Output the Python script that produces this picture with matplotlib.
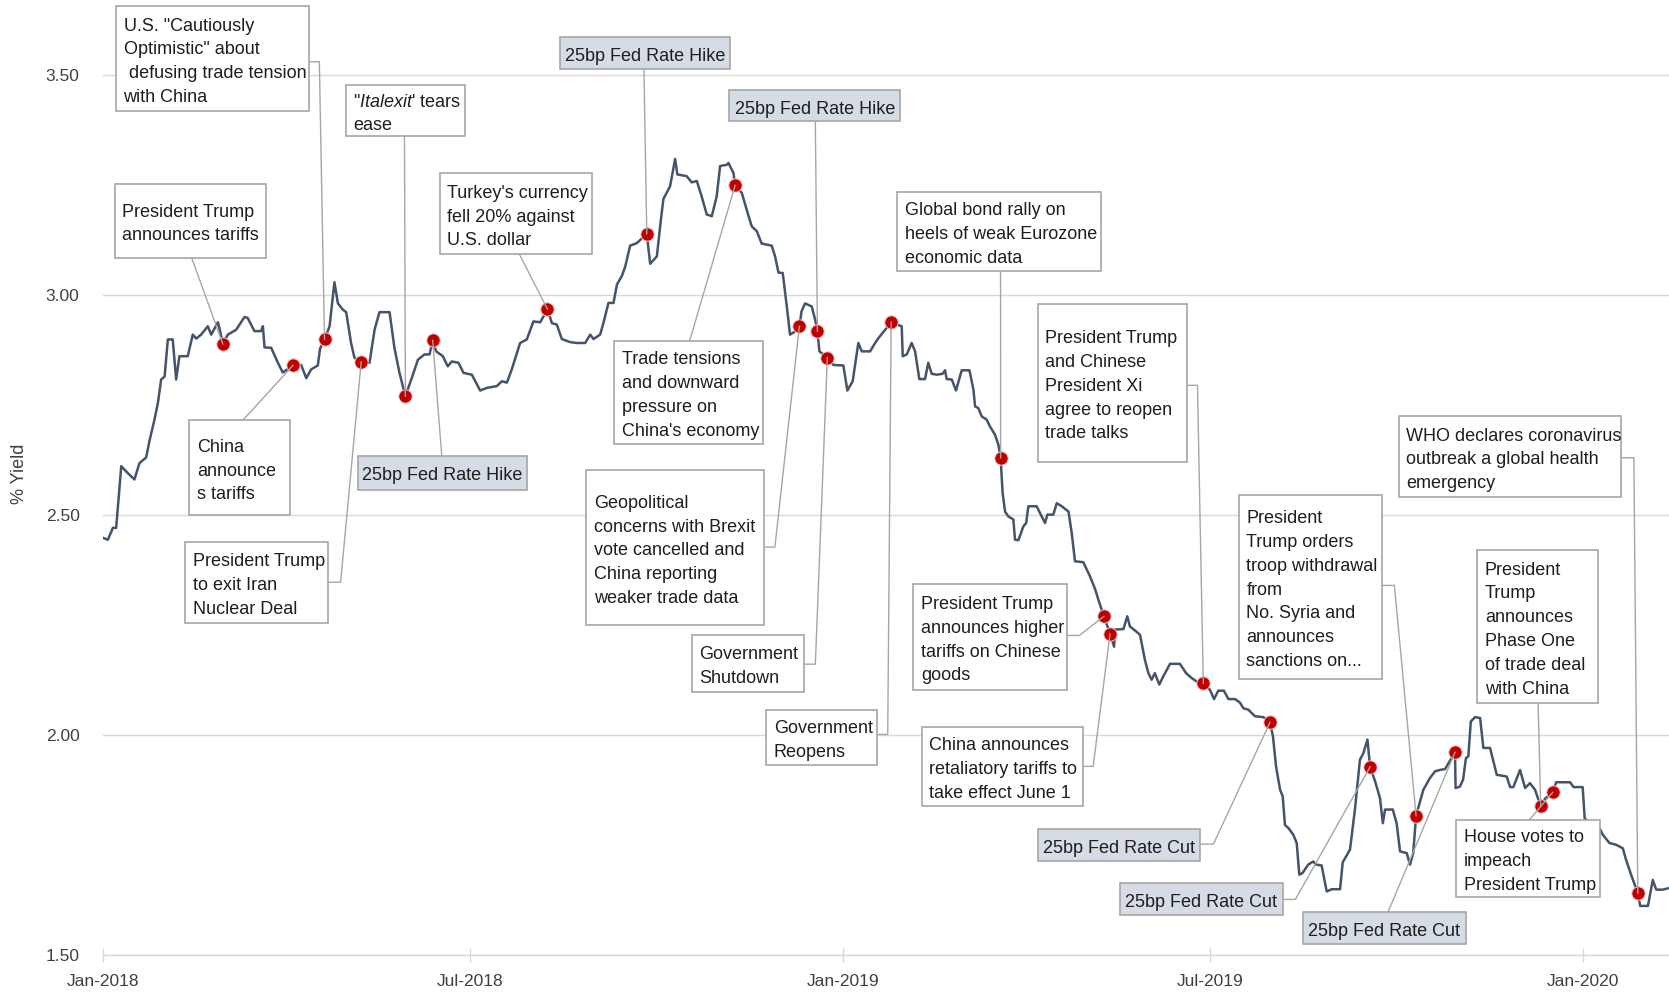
import matplotlib
matplotlib.use('Agg')
import matplotlib.pyplot as plt
from matplotlib.patches import Rectangle
from matplotlib.lines import Line2D
import pandas as pd

plt.rcParams['font.family'] = ['Liberation Sans', 'DejaVu Sans']
plt.rcParams['mathtext.fontset'] = 'custom'
plt.rcParams['mathtext.rm'] = 'Liberation Sans'
plt.rcParams['mathtext.it'] = 'Liberation Sans:italic'

# ---------------- data ----------------
start_date = pd.Timestamp('2018-01-01')
# days since 2018-01-01
day_offset = [0, 2.3, 4.8, 6.4, 8.9, 12, 15.4, 17.9, 21.2, 22.8, 25.3, 27, 28.6, 30.3, 31.9, 34.3, 36,
              37.6, 41.7, 44.2, 45.9, 48.3, 51.6, 53.3, 56.6, 57.7, 59, 61.5, 65.6, 69.7, 71.3, 74.6,
              77.9, 78.8, 79.6, 82.9, 86.2, 88.6, 93.6, 97.7, 100.2, 102.6, 105.9, 107, 109.2, 111.7,
              114.1, 115.8, 118.2, 119.9, 122.3, 124, 127.3, 131.4, 133.9, 136.3, 141.3, 143.7, 146.2,
              149.1, 152, 155.3, 158.5, 161, 162.6, 164.3, 167.6, 170, 172, 175.3, 177.8, 181.9, 186,
              189.3, 194.2, 196.7, 199.2, 201.6, 205.7, 209, 212.3, 215.6, 217.2, 219.2, 221.4, 223.8,
              226.3, 230.4, 233.7, 237.8, 240.3, 241.9, 245.2, 246.8, 249.3, 251.8, 253.5, 256, 257.6,
              260, 263.3, 268.2, 269.9, 273.2, 274.8, 276.4, 279.7, 282.2, 283.3, 287.9, 290.4, 292.9,
              295.3, 297.8, 300.3, 302.7, 304.4, 307.7, 308.5, 311, 311.8, 315.1, 317.5, 320, 322.5,
              324.9, 329.9, 331.5, 333.2, 335.3, 337.3, 338.9, 341, 343.5, 344.6, 346.3, 349.6, 351.3,
              352.4, 353.4, 357.3, 360.3, 365.2, 367.2, 369.8, 372.6, 374.3, 378.4, 380.9, 382.5, 385.8,
              388.8, 394, 394.5, 396.5, 398.9, 400.6, 402.7, 405.5, 407.1, 408.8, 411.3, 414.2, 415.4,
              416.2, 418.7, 420.8, 423.6, 427.4, 429.4, 430.2, 431.8, 433.5, 435.9, 437.6, 440, 441.7,
              442.8, 443.8, 445, 446.6, 449.1, 449.9, 451.6, 454, 455.4, 456.5, 460.6, 463.1, 464.7,
              465.9, 468.8, 470.5, 473, 476.3, 477.9, 479.5, 483.6, 486.9, 489.5, 491.5, 493.8, 496.8,
              498.8, 499.3, 503.4, 505.3, 506.6, 509.6, 511.6, 514, 515.7, 517.3, 518.9, 521.1, 523,
              526.4, 531.3, 534.3, 537, 539.5, 542.8, 546.1, 548.1, 550.2, 553, 555.2, 558.5, 560.9,
              562.6, 565, 568.3, 572.5, 575.7, 577.2, 578.7, 580.7, 582, 583.1, 584.8, 587.2, 588.9,
              590.2, 591.8, 594.6, 597.1, 598.4, 601.2, 603.7, 606.2, 610.3, 611.6, 615.2, 617.7,
              620.1, 621.8, 623.8, 625.1, 627.6, 630, 631.4, 632.5, 636.3, 638.2, 639.9, 643.2, 644.8,
              646.4, 647.8, 651.4, 654.7, 657.2, 659.6, 662.1, 667, 667.3, 669.4, 671, 672.4, 673.6,
              674.8, 676.9, 679.4, 681, 684.3, 687.6, 692.5, 694.2, 695.8, 699.1, 701.6, 704, 706.5,
              709.3, 711.5, 715.2, 716.9, 723.8, 725.5, 730, 731, 735, 738.3, 739.9, 743.2, 746.5,
              749.8, 751.4, 753.9, 757.2, 758.4, 762.2, 764.6, 766.3, 769.6, 772]
yield_pct = [2.447, 2.443, 2.47, 2.47, 2.61, 2.595, 2.58, 2.617, 2.63, 2.667, 2.716, 2.754, 2.807, 2.814,
             2.898, 2.898, 2.807, 2.86, 2.86, 2.909, 2.90, 2.909, 2.928, 2.909, 2.937, 2.917, 2.888,
             2.909, 2.92, 2.949, 2.947, 2.917, 2.917, 2.928, 2.88, 2.879, 2.845, 2.823, 2.839, 2.84,
             2.81, 2.83, 2.839, 2.877, 2.898, 2.928, 3.028, 2.98, 2.966, 2.96, 2.89, 2.856, 2.847,
             2.845, 2.92, 2.96, 2.96, 2.879, 2.822, 2.769, 2.807, 2.852, 2.864, 2.864, 2.896, 2.871,
             2.86, 2.837, 2.848, 2.845, 2.822, 2.818, 2.782, 2.788, 2.792, 2.803, 2.80, 2.83, 2.89,
             2.898, 2.939, 2.937, 2.95, 2.967, 2.935, 2.932, 2.899, 2.892, 2.89, 2.89, 2.909, 2.899,
             2.909, 2.935, 2.981, 2.981, 3.023, 3.043, 3.064, 3.111, 3.117, 3.138, 3.07, 3.087, 3.155,
             3.217, 3.246, 3.308, 3.273, 3.269, 3.255, 3.258, 3.223, 3.182, 3.178, 3.223, 3.292, 3.295,
             3.299, 3.276, 3.248, 3.231, 3.193, 3.155, 3.144, 3.116, 3.111, 3.087, 3.05, 3.049, 2.973,
             2.909, 2.915, 2.928, 2.962, 2.98, 2.973, 2.943, 2.917, 2.871, 2.857, 2.84, 2.839, 2.782,
             2.803, 2.89, 2.871, 2.871, 2.89, 2.901, 2.92, 2.937, 2.928, 2.86, 2.864, 2.89, 2.871, 2.808,
             2.808, 2.845, 2.82, 2.818, 2.82, 2.828, 2.808, 2.807, 2.782, 2.828, 2.828, 2.784, 2.746,
             2.742, 2.723, 2.716, 2.70, 2.682, 2.659, 2.629, 2.549, 2.507, 2.496, 2.489, 2.443, 2.442,
             2.473, 2.481, 2.519, 2.519, 2.496, 2.481, 2.50, 2.50, 2.526, 2.519, 2.507, 2.458, 2.394,
             2.392, 2.36, 2.33, 2.30, 2.269, 2.229, 2.20, 2.239, 2.24, 2.269, 2.246, 2.235, 2.227,
             2.17, 2.14, 2.125, 2.14, 2.114, 2.132, 2.161, 2.161, 2.14, 2.129, 2.121, 2.117, 2.102,
             2.081, 2.10, 2.10, 2.081, 2.081, 2.073, 2.06, 2.057, 2.042, 2.04, 2.028, 1.996, 1.928,
             1.875, 1.86, 1.795, 1.788, 1.773, 1.754, 1.682, 1.686, 1.705, 1.712, 1.705, 1.703, 1.644,
             1.649, 1.649, 1.71, 1.739, 1.833, 1.943, 1.958, 1.989, 1.927, 1.894, 1.856, 1.799, 1.83,
             1.83, 1.799, 1.735, 1.731, 1.705, 1.731, 1.816, 1.875, 1.902, 1.917, 1.92, 1.922, 1.96,
             1.879, 1.882, 1.898, 1.947, 1.951, 2.03, 2.04, 2.038, 1.97, 1.97, 1.909, 1.905, 1.881,
             1.881, 1.92, 1.879, 1.89, 1.875, 1.837, 1.855, 1.869, 1.892, 1.892, 1.881, 1.881, 1.81,
             1.792, 1.788, 1.773, 1.754, 1.75, 1.742, 1.716, 1.682, 1.64, 1.611, 1.611, 1.67, 1.648,
             1.648, 1.651]

event_day = [59, 93.6, 109.2, 127.3, 149.1, 162.6, 219.2, 268.2, 311.8, 343.5, 352.4, 357.3, 388.8,
             442.8, 493.8, 496.8, 542.8, 575.7, 625.1, 647.8, 667, 709.3, 715.2, 757.2]
event_yield = [2.888, 2.839, 2.898, 2.847, 2.769, 2.896, 2.967, 3.138, 3.248, 2.928, 2.917, 2.857,
               2.937, 2.629, 2.269, 2.229, 2.117, 2.028, 1.927, 1.816, 1.96, 1.837, 1.869, 1.64]
event_label = [
    'President Trump\nannounces tariffs',
    'China\nannounce\ns tariffs',
    'U.S. "Cautiously\nOptimistic" about\n defusing trade tension\nwith China',
    'President Trump\nto exit Iran\nNuclear Deal',
    '"$\\mathit{Italexit}$\' tears\nease',
    '25bp Fed Rate Hike',
    "Turkey's currency\nfell 20% against\nU.S. dollar",
    '25bp Fed Rate Hike',
    "Trade tensions\nand downward\npressure on\nChina's economy",
    'Geopolitical\nconcerns with Brexit\nvote cancelled and\nChina reporting\nweaker trade data',
    '25bp Fed Rate Hike',
    'Government\nShutdown',
    'Government\nReopens',
    'Global bond rally on\nheels of weak Eurozone\neconomic data',
    'President Trump\nannounces higher\ntariffs on Chinese\ngoods',
    'China announces\nretaliatory tariffs to\ntake effect June 1',
    'President Trump\nand Chinese\nPresident Xi\nagree to reopen\ntrade talks',
    '25bp Fed Rate Cut',
    '25bp Fed Rate Cut',
    'President\nTrump orders\ntroop withdrawal\nfrom\nNo. Syria and\nannounces\nsanctions on...',
    '25bp Fed Rate Cut',
    'President\nTrump\nannounces\nPhase One\nof trade deal\nwith China',
    'House votes to\nimpeach\nPresident Trump',
    'WHO declares coronavirus\noutbreak a global health\nemergency',
]
x_tick_dates = ['2018-01-01', '2018-07-01', '2019-01-01', '2019-07-01', '2020-01-01']
x_tick_labels = ['Jan-2018', 'Jul-2018', 'Jan-2019', 'Jul-2019', 'Jan-2020']
y_tick_values = [1.5, 2.0, 2.5, 3.0, 3.5]
y_tick_labels = ['1.50', '2.00', '2.50', '3.00', '3.50']

# ---------------- layout ----------------
W, H = 1669, 992
S = 1669 / 1568.0          # layout below measured on a 1568-wide view
LINE_C = '#44546A'
RED = '#C00000'
GRID_C = '#D9D9D9'
BOX_EC = '#A6A6A6'
CONN_C = '#A6A6A6'
FED_FC = '#D6DCE5'
TXT_C = '#1E1E1E'

fig = plt.figure(figsize=(W / 100, H / 100), dpi=100)
ax_left = 103.2 / W
ax_bottom = (H - 954.8) / H
ax = fig.add_axes([ax_left, ax_bottom, 1 - ax_left, 1 - ax_bottom])

dates = start_date + pd.to_timedelta(day_offset, unit='D')
ev_dates = start_date + pd.to_timedelta(event_day, unit='D')

ax.plot(dates, yield_pct, color=LINE_C, lw=1.8, zorder=3, solid_joinstyle='round')
ax.plot(ev_dates, event_yield, 'o', ms=9.6, mfc=RED, mec='#F0C8C8', mew=0.7, zorder=4)

ax.set_xlim(start_date, start_date + pd.Timedelta(days=772.6))
ax.set_ylim(1.5, 1.5 + 954.8 / 440.15)

ax.set_yticks(y_tick_values)
ax.set_yticklabels(y_tick_labels)
ax.set_xticks(pd.to_datetime(x_tick_dates))
ax.set_xticklabels(x_tick_labels)
ax.yaxis.grid(True, color=GRID_C, lw=1.0)
ax.set_axisbelow(True)
for side in ['top', 'right', 'left']:
    ax.spines[side].set_visible(False)
ax.spines['bottom'].set_color(GRID_C)
ax.spines['bottom'].set_linewidth(1.0)
ax.tick_params(axis='y', length=0, pad=17, labelsize=12.5, labelcolor='#404040')
ax.tick_params(axis='x', direction='inout', length=10, width=1.0, color=GRID_C, pad=9,
               labelsize=12.5, labelcolor='#404040')

fig.text(20 / W, 1 - 474 / H, '% Yield', rotation=90, ha='center', va='center',
         fontsize=13, color='#404040')

# annotation boxes: (x0, y0, x1, y1) in the 1568-wide view, fed flag, connector waypoints
boxes = [
    ((108, 173, 250, 242), False, [(180, 242)]),
    ((178, 395, 272, 484), False, [(228, 395)]),
    ((109, 6, 290, 104), False, [(290, 58), (300, 58)]),
    ((174, 509, 308, 585), False, [(308, 547), (320, 547)]),
    ((325, 80, 437, 128), False, [(380, 128)]),
    ((336, 428, 495, 460), True, [(415, 428)]),
    ((413, 163, 556, 239), False, [(488, 239)]),
    ((526, 35, 686, 65), True, [(605, 65)]),
    ((577, 320, 717, 417), False, [(648, 320)]),
    ((551, 442, 718, 587), False, [(718, 514), (728, 514)]),
    ((685, 85, 846, 114), True, [(766, 114)]),
    ((650, 597, 755, 650), False, [(755, 624), (766, 624)]),
    ((720, 667, 824, 719), False, [(824, 690), (834, 690)]),
    ((843, 180, 1034, 255), False, [(940, 255)]),
    ((858, 549, 1002, 648), False, [(1002, 597), (1014, 597)]),
    ((866, 683, 1017, 757), False, [(1017, 720), (1027, 720)]),
    ((975, 286, 1115, 434), False, [(1115, 362), (1125, 362)]),
    ((975, 779, 1127, 809), True, [(1127, 793), (1140, 793)]),
    ((1052, 830, 1205, 860), True, [(1205, 845), (1217, 845)]),
    ((1164, 465, 1298, 638), False, [(1298, 550), (1310, 550)]),
    ((1224, 857, 1377, 887), True, [(1304, 857)]),
    ((1388, 517, 1501, 660), False, [(1445, 660)]),
    ((1368, 770, 1503, 843), False, [(1437, 770)]),
    ((1314, 391, 1523, 467), False, [(1523, 430), (1535, 430)]),
]


def fx(x):
    return x * S / W


def fy(y):
    return 1 - y * S / H


TEXT_SHIFT = 3.2 / H   # nudge text block down inside its box

inv_fig = fig.transFigure.inverted()
for i, ((x0, y0, x1, y1), fed, path) in enumerate(boxes):
    # connector from box to the event marker
    mx, my = inv_fig.transform(ax.transData.transform(
        (ax.xaxis.convert_units(ev_dates[i]), event_yield[i])))
    xs = [fx(p[0]) for p in path] + [mx]
    ys = [fy(p[1]) for p in path] + [my]
    fig.add_artist(Line2D(xs, ys, color=CONN_C, lw=1.0, transform=fig.transFigure, zorder=5))
    # box
    fig.add_artist(Rectangle((fx(x0), fy(y1)), fx(x1) - fx(x0), fy(y0) - fy(y1),
                             transform=fig.transFigure, fc=FED_FC if fed else 'white',
                             ec=BOX_EC, lw=1.2, zorder=6))
    cy = (fy(y0) + fy(y1)) / 2 - TEXT_SHIFT
    if fed:
        fig.text((fx(x0) + fx(x1)) / 2, cy, event_label[i], ha='center', va='center',
                 fontsize=13, color=TXT_C, zorder=7)
    else:
        fig.text(fx(x0) + 7.5 / W, cy, event_label[i], ha='left', va='center',
                 fontsize=13, color=TXT_C, linespacing=1.52, zorder=7)

fig.savefig('out.png', dpi=100)
